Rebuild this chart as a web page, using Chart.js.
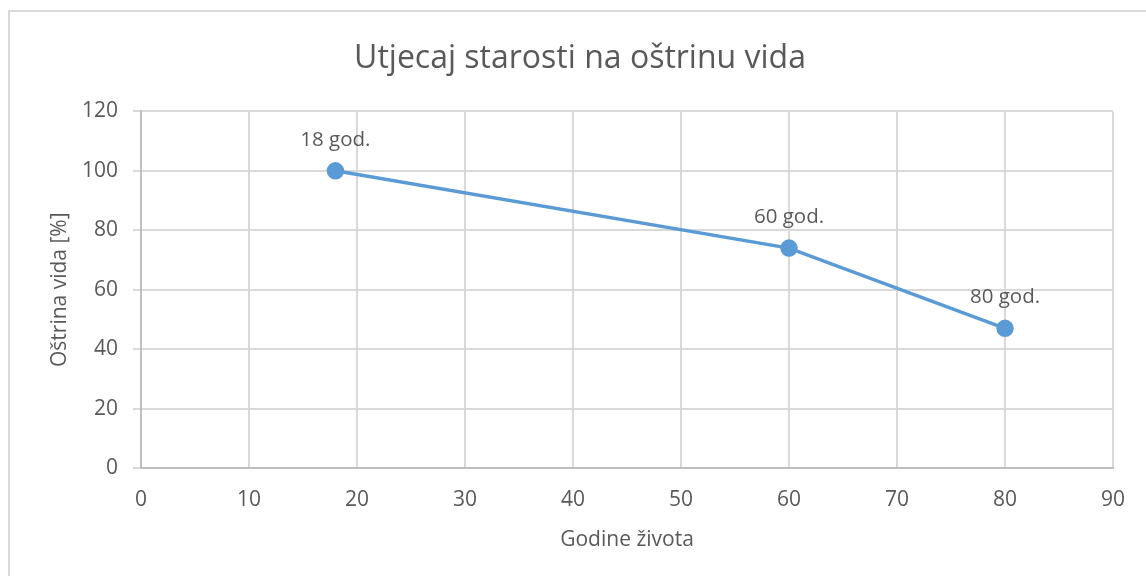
<!DOCTYPE html>
<html>
<head>
<meta charset="utf-8">
<script src="https://cdn.jsdelivr.net/npm/chart.js@4"></script>
<style>
  html, body { margin: 0; padding: 0; background: #fff; }
  #wrap { position: relative; width: 1146px; height: 576px; overflow: hidden; }
  #frame { position: absolute; left: 8px; top: 10px; width: 1160px; height: 600px; border: 2px solid #d9d9d9; box-sizing: border-box; }
  canvas { position: absolute; left: 0; top: 0; }
</style>
</head>
<body>
<div id="wrap">
  <div id="frame"></div>
  <canvas id="myChart" width="1146" height="576"></canvas>
</div>
<script>
// values
const ages = [18, 60, 80];
const acuity = [100, 74, 47];
const pointLabels = ['18 god.', '60 god.', '80 god.'];

const textColor = '#595959';
const lineColor = '#5b9bd5';
const fontFamily = '"Open Sans", sans-serif';

// labels above each point
const pointLabelPlugin = {
  id: 'pointLabels',
  afterDatasetsDraw(chart) {
    const ctx = chart.ctx;
    const meta = chart.getDatasetMeta(0);
    ctx.save();
    ctx.font = '20.5px ' + fontFamily;
    ctx.fillStyle = textColor;
    ctx.textAlign = 'center';
    ctx.textBaseline = 'middle';
    meta.data.forEach((pt, i) => {
      ctx.fillText(pointLabels[i], pt.x, pt.y - 31);
    });
    ctx.restore();
  }
};

const ctx = document.getElementById('myChart').getContext('2d');
const myChart = new Chart(ctx, {
  type: 'scatter',
  data: {
    datasets: [{
      data: ages.map((a, i) => ({ x: a, y: acuity[i] })),
      showLine: true,
      borderColor: lineColor,
      backgroundColor: lineColor,
      borderWidth: 3.5,
      pointRadius: 7,
      pointHoverRadius: 7,
      tension: 0
    }]
  },
  options: {
    responsive: false,
    animation: false,
    layout: { padding: { left: 47, right: 33, top: 0, bottom: 0 } },
    plugins: {
      legend: { display: false },
      tooltip: { enabled: false },
      title: {
        display: true,
        text: 'Utjecaj starosti na oštrinu vida',
        color: textColor,
        font: { family: fontFamily, size: 32, weight: 'normal' },
        padding: { top: 40, bottom: 33 }
      }
    },
    scales: {
      x: {
        type: 'linear',
        min: 0,
        max: 90,
        ticks: { stepSize: 10, color: textColor, font: { family: fontFamily, size: 21 }, padding: 19, maxRotation: 0 },
        grid: { color: '#d9d9d9', lineWidth: 2, drawTicks: false },
        border: { color: '#bfbfbf', width: 2 },
        title: {
          display: true,
          text: 'Godine života',
          color: textColor,
          font: { family: fontFamily, size: 21 },
          padding: { top: 0, bottom: 23 }
        },
        afterFit(scale) { scale.height = 108; }
      },
      y: {
        min: 0,
        max: 120,
        ticks: { stepSize: 20, color: textColor, font: { family: fontFamily, size: 21 }, padding: 15 },
        grid: { color: '#d9d9d9', lineWidth: 2, tickLength: 8 },
        border: { color: '#bfbfbf', width: 2 },
        title: {
          display: true,
          text: 'Oštrina vida [%]',
          color: textColor,
          font: { family: fontFamily, size: 21 },
          padding: { top: 0, bottom: 0 }
        },
        afterFit(scale) { scale.width = 94; }
      }
    }
  },
  plugins: [pointLabelPlugin]
});
</script>
</body>
</html>
